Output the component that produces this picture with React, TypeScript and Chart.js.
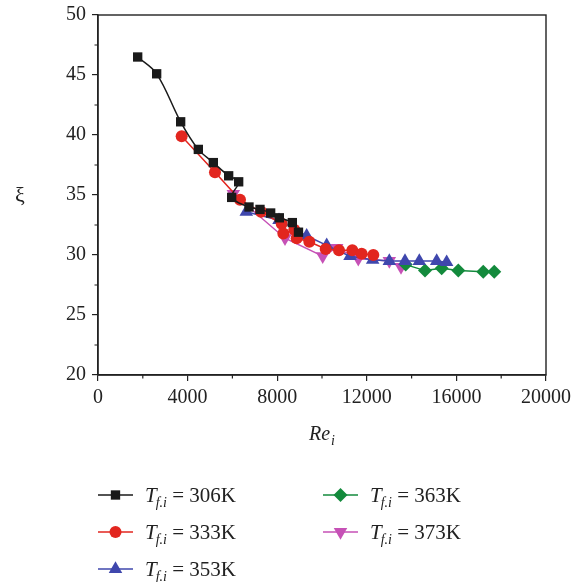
import React, { useEffect, useRef } from "react";
import { Chart, registerables } from "chart.js";

Chart.register(...registerables);

// ---- data ----
const re306 = [1772, 2619, 3690, 4479, 5149, 5833, 6280, 5967, 6741, 7232, 7708, 8095, 8676, 8950];
const xi306 = [46.5, 45.1, 41.1, 38.8, 37.7, 36.6, 36.1, 34.8, 34.0, 33.8, 33.5, 33.1, 32.7, 31.9];

const re333 = [3735, 5223, 6339, 7277, 8200, 8274, 8764, 8870, 9433, 10165, 10759, 11353, 11770, 12290];
const xi333 = [39.9, 36.9, 34.6, 33.6, 32.6, 31.8, 32.1, 31.4, 31.1, 30.5, 30.4, 30.4, 30.1, 30.0];

const re353 = [6620, 8080, 9315, 10210, 11250, 12262, 13005, 13705, 14345, 15120, 15565];
const xi353 = [33.6, 32.9, 31.6, 30.8, 29.9, 29.6, 29.5, 29.5, 29.5, 29.5, 29.4];

const re363 = [13735, 14598, 15343, 16086, 17200, 17690];
const xi363 = [29.2, 28.7, 28.9, 28.7, 28.6, 28.6];

const re373 = [6042, 8348, 10031, 10655, 11620, 13005, 13527];
const xi373 = [35.1, 31.4, 29.9, 30.6, 29.7, 29.5, 29.0];

const labels = ["306K", "333K", "353K", "363K", "373K"];
const colors = ["#1a1a1a", "#e2261f", "#3f47ad", "#138a3c", "#c651b6"];
const shapes = ["rect", "circle", "triangle", "rectRot", "triangle"];
const radii = [6.6, 6, 7.8, 7, 7.8];
const rotations = [0, 0, 0, 0, 180];
const tensions = [0.35, 0, 0, 0, 0];

const xTickStep = 4000;
const yTickStep = 5;

const SERIF = "'Liberation Serif', 'DejaVu Serif', serif";

function pts(xs: number[], ys: number[]) {
  return xs.map((x, i) => ({ x, y: ys[i] }));
}

const series = [
  pts(re306, xi306),
  pts(re333, xi333),
  pts(re353, xi353),
  pts(re363, xi363),
  pts(re373, xi373),
];

function drawMarker(ctx: CanvasRenderingContext2D, shape: string, x: number, y: number, r: number, rot: number, color: string) {
  ctx.save();
  ctx.fillStyle = color;
  ctx.beginPath();
  if (shape === "rect") {
    const s = Math.SQRT1_2 * r;
    ctx.rect(x - s, y - s, 2 * s, 2 * s);
  } else if (shape === "circle") {
    ctx.arc(x, y, r, 0, Math.PI * 2);
  } else if (shape === "rectRot") {
    ctx.moveTo(x, y - r);
    ctx.lineTo(x + r, y);
    ctx.lineTo(x, y + r);
    ctx.lineTo(x - r, y);
    ctx.closePath();
  } else if (shape === "triangle") {
    const a = (rot * Math.PI) / 180;
    for (let k = 0; k < 3; k++) {
      const ang = a - Math.PI / 2 + (k * 2 * Math.PI) / 3;
      const px = x + Math.cos(ang) * r;
      const py = y + Math.sin(ang) * r;
      if (k === 0) ctx.moveTo(px, py);
      else ctx.lineTo(px, py);
    }
    ctx.closePath();
  }
  ctx.fill();
  ctx.restore();
}

const decorPlugin = {
  id: "decor",
  afterDraw(chart: any) {
    const ctx: CanvasRenderingContext2D = chart.ctx;
    const { left, right, top, bottom } = chart.chartArea;
    const xs = chart.scales.x;
    const ys = chart.scales.y;
    ctx.save();
    // frame
    ctx.strokeStyle = "#222";
    ctx.lineWidth = 1.4;
    ctx.strokeRect(left, top, right - left, bottom - top);
    // minor ticks
    ctx.lineWidth = 1.2;
    ctx.beginPath();
    for (let v = xs.min + xTickStep / 2; v < xs.max; v += xTickStep) {
      const px = xs.getPixelForValue(v);
      ctx.moveTo(px, bottom);
      ctx.lineTo(px, bottom + 3.5);
    }
    for (let v = ys.min + yTickStep / 2; v < ys.max; v += yTickStep) {
      const py = ys.getPixelForValue(v);
      ctx.moveTo(left, py);
      ctx.lineTo(left - 3.5, py);
    }
    ctx.stroke();

    // axis titles
    ctx.fillStyle = "#222";
    ctx.textBaseline = "alphabetic";
    ctx.font = `italic 20px ${SERIF}`;
    const reW = ctx.measureText("Re").width;
    const cx = (left + right) / 2;
    const tx = cx - (reW + 5) / 2;
    ctx.fillText("Re", tx, 440);
    ctx.font = `italic 14px ${SERIF}`;
    ctx.fillText("i", tx + reW + 1, 445);

    ctx.font = `22px ${SERIF}`;
    ctx.textAlign = "center";
    ctx.fillText("ξ", 20, 202);
    ctx.textAlign = "left";

    // legend
    const cols = [98, 323];
    const rows = [495, 532, 569];
    const order = [
      [0, 0, 0],
      [1, 0, 1],
      [2, 0, 2],
      [3, 1, 0],
      [4, 1, 1],
    ];
    for (const [i, c, r] of order) {
      const x0 = cols[c];
      const y0 = rows[r];
      ctx.strokeStyle = colors[i];
      ctx.lineWidth = 1.5;
      ctx.beginPath();
      ctx.moveTo(x0, y0);
      ctx.lineTo(x0 + 35, y0);
      ctx.stroke();
      drawMarker(ctx, shapes[i], x0 + 17.5, y0, radii[i], rotations[i], colors[i]);
      const t0 = x0 + 47;
      const base = y0 + 7;
      ctx.fillStyle = "#222";
      ctx.font = `italic 21px ${SERIF}`;
      ctx.fillText("T", t0, base);
      const tW = ctx.measureText("T").width;
      ctx.font = `italic 14px ${SERIF}`;
      ctx.fillText("f.i", t0 + tW - 1, base + 5);
      const sW = ctx.measureText("f.i").width;
      ctx.font = `21px ${SERIF}`;
      ctx.fillText(" = " + labels[i], t0 + tW - 1 + sW, base);
    }
    ctx.restore();
  },
};

export default function App() {
  const ref = useRef<HTMLCanvasElement | null>(null);
  useEffect(() => {
    if (!ref.current) return;
    const chart = new Chart(ref.current, {
      type: "scatter",
      data: {
        datasets: series.map((d, i) => ({
          label: labels[i],
          data: d,
          showLine: true,
          borderColor: colors[i],
          backgroundColor: colors[i],
          borderWidth: 1.5,
          pointStyle: shapes[i] as any,
          pointRadius: radii[i],
          pointRotation: rotations[i],
          pointBorderWidth: 0,
          pointBackgroundColor: colors[i],
          tension: tensions[i],
        })),
      },
      options: {
        animation: false,
        responsive: false,
        devicePixelRatio: 1,
        layout: { padding: { top: 15, right: 35, left: 0, bottom: 0 } },
        plugins: { legend: { display: false }, tooltip: { enabled: false } },
        scales: {
          x: {
            type: "linear",
            min: 0,
            max: 20000,
            afterFit: (s: any) => {
              s.height = 207;
              s.paddingLeft = 0;
              s.paddingRight = 0;
            },
            ticks: {
              stepSize: xTickStep,
              color: "#222",
              font: { family: SERIF, size: 20 },
              padding: 5,
              maxRotation: 0,
              callback: (v: any) => String(v),
            },
            grid: { drawOnChartArea: false, tickLength: 6, color: "#222", lineWidth: 1.2 },
            border: { display: true, color: "#222", width: 1.4 },
          },
          y: {
            type: "linear",
            min: 20,
            max: 50,
            afterFit: (s: any) => {
              s.width = 98;
              s.paddingTop = 0;
              s.paddingBottom = 0;
            },
            ticks: {
              stepSize: yTickStep,
              color: "#222",
              font: { family: SERIF, size: 20 },
              padding: 6,
            },
            grid: { drawOnChartArea: false, tickLength: 6, color: "#222", lineWidth: 1.2 },
            border: { display: true, color: "#222", width: 1.4 },
          },
        },
      },
      plugins: [decorPlugin],
    });
    return () => chart.destroy();
  }, []);
  return (
    <div style={{ position: "absolute", left: 0, top: 0, width: 581, height: 582, background: "#fff" }}>
      <canvas ref={ref} width={581} height={582} style={{ width: 581, height: 582, display: "block" }} />
    </div>
  );
}
